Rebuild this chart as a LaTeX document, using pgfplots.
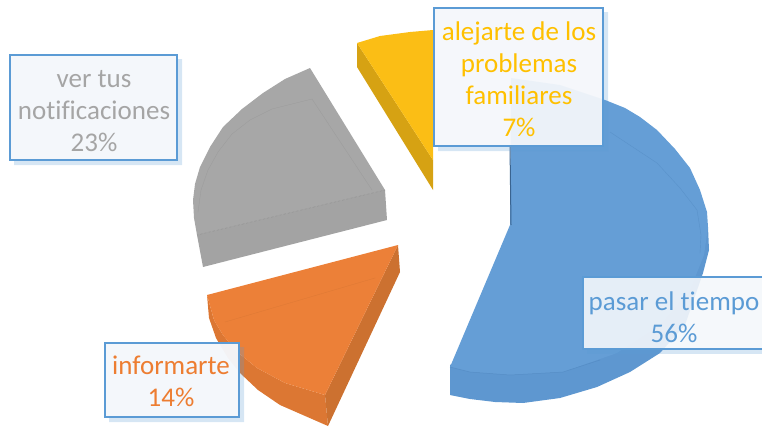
\documentclass[border=0pt]{standalone}
\usepackage{pgfplots}
\pgfplotsset{compat=1.18}
\usepackage{fontspec}
\setmainfont{Carlito}[Ligatures=NoCommon]
\definecolor{bluetop}{HTML}{659ED6}
\definecolor{blueside}{HTML}{5E97D0}
\definecolor{blueline}{HTML}{4F86BE}
\definecolor{bluedark}{HTML}{3A6490}
\definecolor{bluebox}{HTML}{5B9BD5}
\definecolor{graytop}{HTML}{A7A7A7}
\definecolor{grayside}{HTML}{A3A3A3}
\definecolor{goldtop}{HTML}{FBBE15}
\definecolor{goldside}{HTML}{D6A213}
\definecolor{orangetop}{HTML}{EC8038}
\definecolor{orangeside}{HTML}{CC7130}
\definecolor{orangefront}{HTML}{DC7733}
\definecolor{labelgray}{HTML}{A5A5A5}
\definecolor{labelgold}{HTML}{FFC000}
\definecolor{labelorange}{HTML}{ED7D31}
\definecolor{boxfill}{HTML}{F4F7FB}
\begin{document}
\begin{tikzpicture}
\begin{axis}[
  name=a,
  width=762pt,height=426pt,scale only axis,
  xmin=0,xmax=762,ymin=0,ymax=426,y dir=reverse,
  axis lines=none,clip=true,
  every axis plot/.append style={no markers,line width=0pt}]
\addplot[draw=none] coordinates {(0,0)(762,426)};
% blue slice
\addplot[fill=blueside,draw=none] coordinates {(450,365)(450,395)(470,399)(495,402)(523,403)(560,398)(597,387)(630,372)(660,353)(685,325)(703,273)(709,250)(708,227)} -- cycle;
\addplot[fill=bluetop,draw=none] coordinates {(511,90)(510,225)(450,367)(470,372)(510,375)(563,372)(617,353)(660,325)(690,290)(704,255)(708,227)(707,212)(700,190)(690,168)(675,149)(657,130)(640,117)(625,108)(605,100)(560,85)(511,78)} -- cycle;
\addplot[draw=bluedark,line width=1pt] coordinates {(510,146)(511,225)};
\addplot[draw=blueline,opacity=.6,line width=.5pt] coordinates {(450,367)(470,372)(510,375)(563,372)(600,360)};
\addplot[draw=blueline,opacity=.5,line width=.4pt] coordinates {(610,132)(657,163)(680,188)(697,210)(701,235)(700,253)};
% gray slice
\addplot[fill=grayside,draw=none] coordinates {(197,235)(203,267)(387,220)(385,190)} -- cycle;
\addplot[fill=graytop,draw=none] coordinates {(310,68)(285,79)(263,93)(242,109)(223,127)(210,147)(200,167)(195,184)(193,200)(194,218)(197,235)(385,190)} -- cycle;
\addplot[draw=gray,opacity=.6,line width=.4pt] coordinates {(197,235)(385,190)};
\addplot[draw=gray,opacity=.3,line width=.3pt] coordinates {(198,212)(201,190)(208,170)(218,152)(232,134)(250,120)(272,109)(312,99)(372,190)};
% gold slice
\addplot[fill=goldside,draw=none] coordinates {(357,43)(357,67)(433,190)(433,160)} -- cycle;
\addplot[fill=goldtop,draw=none] coordinates {(357,43)(380,36)(410,32)(433,30)(433,160)} -- cycle;
% orange slice
\addplot[fill=orangefront,draw=none] coordinates {(207,295)(209,318)(216,338)(228,358)(240,373)(258,390)(280,405)(328,426)(325,395)(285,383)(257,368)(235,350)(223,335)(214,320)} -- cycle;
\addplot[fill=orangeside,draw=none] coordinates {(398,245)(400,272)(328,426)(325,395)} -- cycle;
\addplot[fill=orangetop,draw=none] coordinates {(207,295)(398,245)(325,395)(285,383)(257,368)(235,350)(223,335)(214,320)} -- cycle;
\addplot[draw=orangeside,opacity=.5,line width=.3pt] coordinates {(225,322)(375,278)};
% label boxes, shadows first
\addplot[fill=bluebox,opacity=.25,draw=none] coordinates {(438,151)(608,151)(608,12)(604,12)(604,147)(438,147)} -- cycle;
\addplot[fill=bluebox,opacity=.25,draw=none] coordinates {(14,165)(182,165)(182,59)(178,59)(178,161)(14,161)} -- cycle;
\addplot[fill=bluebox,opacity=.25,draw=none] coordinates {(109,422)(244,422)(244,347)(240,347)(240,418)(109,418)} -- cycle;
\addplot[fill=bluebox,opacity=.25,draw=none] coordinates {(587,354)(762,354)(762,350)(587,350)} -- cycle;
\addplot[fill=boxfill,fill opacity=.94,draw=bluebox,line width=2.2pt] coordinates {(434,8)(603,8)(603,146)(434,146)} -- cycle;
\addplot[fill=boxfill,fill opacity=.97,draw=bluebox,line width=2.2pt] coordinates {(10,55)(177,55)(177,160)(10,160)} -- cycle;
\addplot[fill=boxfill,fill opacity=.97,draw=bluebox,line width=2.2pt] coordinates {(105,343)(239,343)(239,417)(105,417)} -- cycle;
\addplot[fill=boxfill,fill opacity=.9,draw=none] coordinates {(762,277)(583,277)(583,349)(762,349)} -- cycle;
\addplot[draw=bluebox,line width=1.6pt] coordinates {(762,277)(583,277)(583,349)(762,349)};
% labels
\node[align=center,text=labelgold,font=\fontsize{27}{32}\selectfont] at (axis cs:519,79) {alejarte de los\\problemas\\familiares\\7\%};
\node[align=center,text=labelgray,font=\fontsize{27}{32}\selectfont] at (axis cs:94,111) {ver tus\\notificaciones\\23\%};
\node[align=center,text=labelorange,font=\fontsize{27}{32}\selectfont] at (axis cs:171,381) {informarte\\14\%};
\node[align=center,text=bluebox,font=\fontsize{27}{32}\selectfont] at (axis cs:674,317) {pasar el tiempo\\56\%};
\end{axis}
\pgfresetboundingbox
\path[use as bounding box] (a.south west) rectangle (a.north east);
\end{tikzpicture}
\end{document}
